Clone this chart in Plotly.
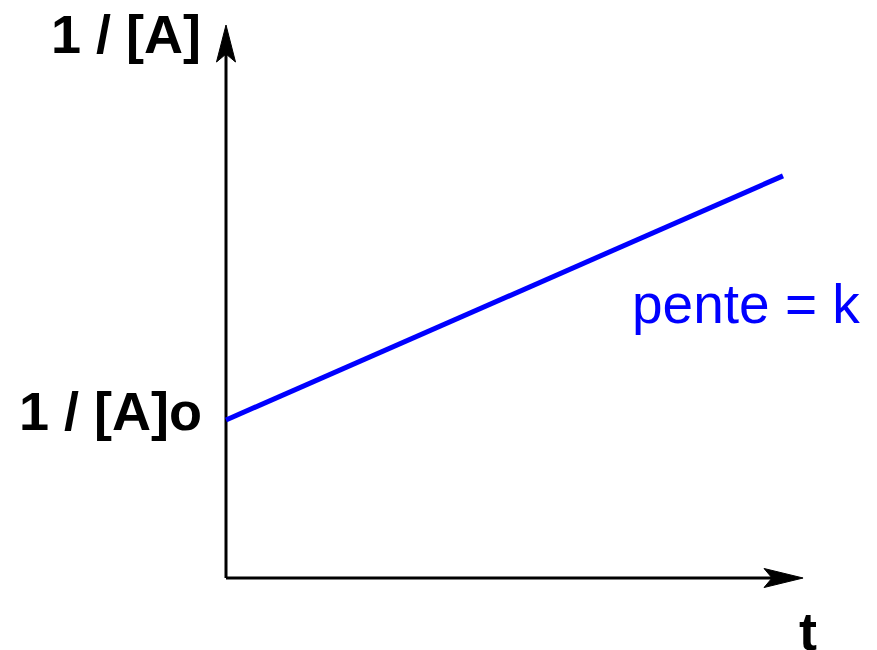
import plotly.graph_objects as go

# Data
t_values = [0, 10]
inv_A_values = [2.0, 5.09]
t_axis_end = 10.36
y_axis_end = 7.0

W, H = 877, 650
ORIGIN_PX = (226, 578)
SX, SY = 55.7, 79.0

x_range = [-ORIGIN_PX[0] / SX, (W - ORIGIN_PX[0]) / SX]
y_range = [-(H - ORIGIN_PX[1]) / SY, ORIGIN_PX[1] / SY]

FONT = "Liberation Sans, Arial, sans-serif"

fig = go.Figure()

# axes lines
fig.add_trace(go.Scatter(x=[0, t_axis_end - 0.5], y=[0, 0], mode="lines",
                         line=dict(color="black", width=3), hoverinfo="skip"))
fig.add_trace(go.Scatter(x=[0, 0], y=[0, y_axis_end - 0.35], mode="lines",
                         line=dict(color="black", width=3), hoverinfo="skip"))

# main line
fig.add_trace(go.Scatter(x=t_values, y=inv_A_values, mode="lines",
                         line=dict(color="#0000FF", width=5), hoverinfo="skip"))

shapes = [
    dict(type="path", xref="x", yref="y", xsizemode="pixel", ysizemode="pixel",
         xanchor=t_axis_end, yanchor=0,
         path="M0,0 L-39,9.5 L-31,0 L-39,-9.5 Z",
         fillcolor="black", line=dict(color="black", width=1)),
    dict(type="path", xref="x", yref="y", xsizemode="pixel", ysizemode="pixel",
         xanchor=0, yanchor=y_axis_end,
         path="M0,0 L-9.5,-37 L0,-29 L9.5,-37 Z",
         fillcolor="black", line=dict(color="black", width=1)),
]


def px(xp):
    return xp / W


def py(yp):
    return 1 - yp / H


annotations = [
    dict(text="<b>1 / [A]</b>", x=px(203), y=py(33.5), xref="paper", yref="paper",
         xanchor="right", yanchor="middle", showarrow=False,
         font=dict(family=FONT, size=54, color="black")),
    dict(text="<b>1 / [A]o</b>", x=px(204), y=py(411), xref="paper", yref="paper",
         xanchor="right", yanchor="middle", showarrow=False,
         font=dict(family=FONT, size=54, color="black")),
    dict(text="<b>t</b>", x=px(808), y=py(631), xref="paper", yref="paper",
         xanchor="center", yanchor="middle", showarrow=False,
         font=dict(family=FONT, size=54, color="black")),
    dict(text="pente = k", x=px(630), y=py(303.5), xref="paper", yref="paper",
         xanchor="left", yanchor="middle", showarrow=False,
         font=dict(family=FONT, size=55, color="#0000FF")),
]

fig.update_layout(
    width=W, height=H, autosize=False,
    margin=dict(l=0, r=0, t=0, b=0),
    paper_bgcolor="white", plot_bgcolor="white",
    showlegend=False,
    xaxis=dict(range=x_range, visible=False, fixedrange=True),
    yaxis=dict(range=y_range, visible=False, fixedrange=True),
    shapes=shapes,
    annotations=annotations,
)

fig.write_html("out.html", config={"displayModeBar": False},
               post_script="document.body.style.margin='0';document.body.style.overflow='hidden';")
